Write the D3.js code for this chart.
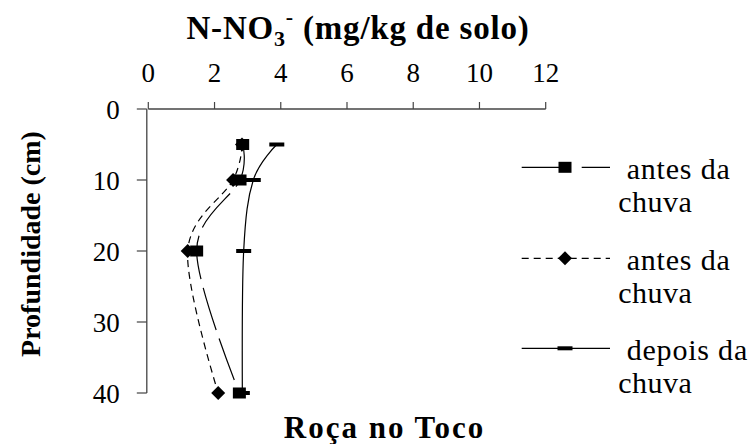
<!DOCTYPE html>
<html>
<head>
<meta charset="utf-8">
<script src="https://cdn.jsdelivr.net/npm/d3@7"></script>
</head>
<body style="margin:0">
<svg id="chart" width="751" height="444"></svg>
<script>
// ---- data ----
const depths = [5, 10, 20, 40];
const seriesNames = ["antes da chuva", "antes da chuva", "depois da chuva"];
const antesSquare = [2.85, 2.77, 1.46, 2.75];
const antesDiamond = [2.83, 2.56, 1.19, 2.11];
const depoisDash = [3.88, 3.17, 2.88, 2.84];
const xTicks = [0, 2, 4, 6, 8, 10, 12];
const yTicks = [0, 10, 20, 30, 40];
const xTitle = "N-NO";
const yTitle = "Profundidade (cm)";
const bottomTitle = "Roça no Toco";

const FONT = "Liberation Serif";

const svg = d3.select("#chart");
const x = d3.scaleLinear().domain([0, 12]).range([148.3, 545.7]);
const y = d3.scaleLinear().domain([0, 40]).range([109, 393]);

// axes
const axisColor = "#444";
const gx = svg.append("g").attr("transform", `translate(0,${y(0)})`);
gx.append("line").attr("x1", x(0)).attr("x2", x(12)).attr("stroke", axisColor).attr("stroke-width", 1.3);
gx.selectAll("line.t").data(xTicks).join("line").attr("class", "t")
  .attr("x1", d => x(d)).attr("x2", d => x(d)).attr("y1", 0).attr("y2", -7)
  .attr("stroke", axisColor).attr("stroke-width", 1.2);
gx.selectAll("text").data(xTicks).join("text")
  .attr("x", d => x(d)).attr("y", -27.3)
  .attr("text-anchor", "middle").attr("font-size", 27).style("font-family", FONT).text(d => d);

const gy = svg.append("g").attr("transform", `translate(${x(0) - 1.5},0)`);
gy.append("line").attr("y1", y(0)).attr("y2", y(40)).attr("stroke", axisColor).attr("stroke-width", 1.3);
gy.selectAll("line.t").data(yTicks).join("line").attr("class", "t")
  .attr("y1", d => y(d)).attr("y2", d => y(d)).attr("x1", 0).attr("x2", -10)
  .attr("stroke", axisColor).attr("stroke-width", 1.2);
gy.selectAll("text").data(yTicks).join("text")
  .attr("x", -27).attr("y", d => y(d) + 10)
  .attr("text-anchor", "end").attr("font-size", 27).style("font-family", FONT).text(d => d);

// titles
const tt = svg.append("text")
  .attr("x", 358).attr("y", 39.3)
  .attr("text-anchor", "middle").attr("font-size", 33).attr("font-weight", "bold")
  .style("font-family", FONT).style("letter-spacing", "0.8px");
tt.append("tspan").text(xTitle);
tt.append("tspan").attr("font-size", 22).attr("dy", 7).text("3");
tt.append("tspan").attr("font-size", 22).attr("dy", -22).text("-");
tt.append("tspan").attr("dy", 15).text(" (mg/kg de solo)");

svg.append("text")
  .attr("transform", "translate(40,244) rotate(-90)")
  .attr("text-anchor", "middle").attr("font-size", 28).attr("font-weight", "bold").style("font-family", FONT)
  .text(yTitle);

svg.append("text")
  .attr("x", 384.5).attr("y", 438.3)
  .attr("text-anchor", "middle").attr("font-size", 31).attr("font-weight", "bold")
  .style("font-family", FONT).style("letter-spacing", "2px")
  .text(bottomTitle);

// series
const curve = d3.curveCardinal.tension(0);
const series = [
  { name: seriesNames[2], vals: depoisDash, dash: null, marker: "dash" },
  { name: seriesNames[1], vals: antesDiamond, dash: "7,5", marker: "diamond" },
  { name: seriesNames[0], vals: antesSquare, dash: "44,9", marker: "square" }
];
const line = d3.line().x(d => x(d.v)).y(d => y(d.d)).curve(curve);

function drawMarker(g, type, cx, cy) {
  if (type === "square") {
    g.append("rect").attr("x", cx - 6.5).attr("y", cy - 5.5).attr("width", 13).attr("height", 11).attr("fill", "#000");
  } else if (type === "diamond") {
    g.append("path").attr("d", `M${cx - 7},${cy} L${cx},${cy - 7} L${cx + 7},${cy} L${cx},${cy + 7} Z`).attr("fill", "#000");
  } else {
    g.append("rect").attr("x", cx - 7.5).attr("y", cy - 2).attr("width", 15).attr("height", 4).attr("fill", "#000");
  }
}

series.forEach(s => {
  const pts = depths.map((d, i) => ({ d: d, v: s.vals[i] }));
  svg.append("path").attr("d", line(pts)).attr("fill", "none").attr("stroke", "#000")
    .attr("stroke-width", 1.2).attr("stroke-dasharray", s.dash);
});
series.forEach(s => {
  const g = svg.append("g");
  depths.forEach((d, i) => drawMarker(g, s.marker, x(s.vals[i]), y(d)));
});

// legend
const legendItems = [
  { name: seriesNames[0], dash: "49,11", marker: "square", ly: 167.3 },
  { name: seriesNames[1], dash: "7,5", marker: "diamond", ly: 258.3 },
  { name: seriesNames[2], dash: null, marker: "dash", ly: 348.3 }
];
legendItems.forEach(it => {
  const g = svg.append("g");
  g.append("line").attr("x1", 521.7).attr("x2", 610).attr("y1", it.ly).attr("y2", it.ly)
    .attr("stroke", "#000").attr("stroke-width", 1.2).attr("stroke-dasharray", it.dash);
  drawMarker(g, it.marker, 565, it.ly);
  const words = it.name.split(" ");
  g.append("text").attr("x", 626.7).attr("y", it.ly + 12)
    .attr("font-size", 30).style("font-family", FONT).style("letter-spacing", "0.8px")
    .text(words.slice(0, 2).join(" "));
  g.append("text").attr("x", 618.3).attr("y", it.ly + 44.4)
    .attr("font-size", 30).style("font-family", FONT).style("letter-spacing", "0.5px")
    .text(words.slice(2).join(" "));
});
</script>
</body>
</html>
